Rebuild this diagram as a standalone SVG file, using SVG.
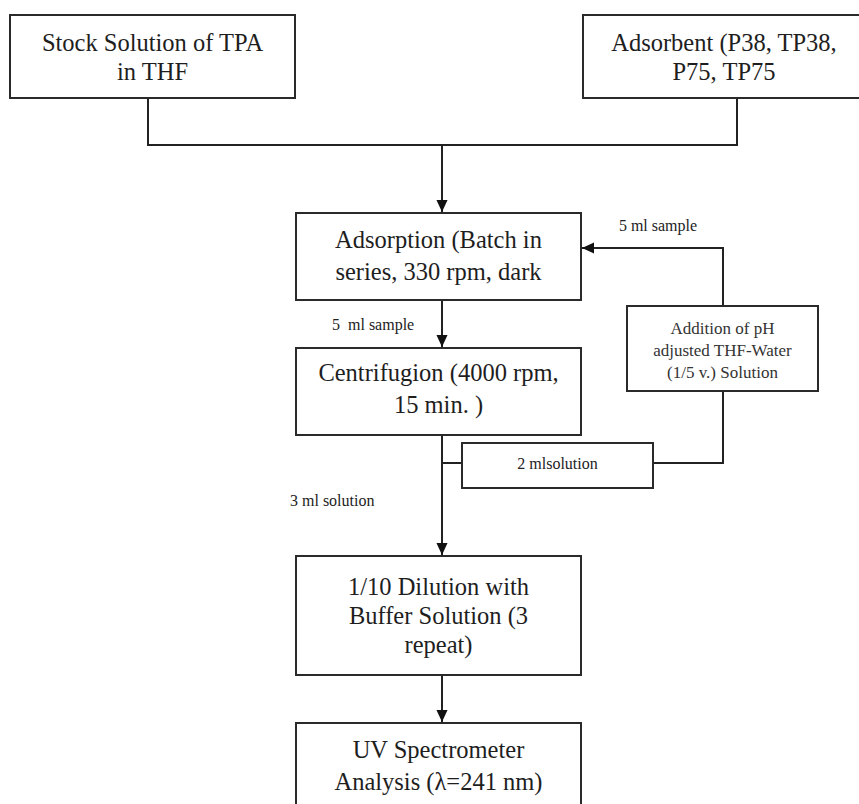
<svg xmlns="http://www.w3.org/2000/svg" width="859" height="804" viewBox="0 0 859 804">
<style>
.box{fill:#fff;stroke:#2a2a2a;stroke-width:2}
.t{font-family:"Liberation Serif","Times New Roman",serif;font-size:24.5px;fill:#1e1e1e;text-anchor:middle}
.s{font-family:"Liberation Serif","Times New Roman",serif;font-size:16px;fill:#222}
.m{font-family:"Liberation Serif","Times New Roman",serif;font-size:17px;fill:#333;text-anchor:middle}
.c{fill:none;stroke:#222;stroke-width:2}
</style>
<defs>
<marker id="ah" markerWidth="12" markerHeight="13" viewBox="0 0 13 12" refX="13" refY="6" orient="auto" markerUnits="userSpaceOnUse">
<path d="M0,0 L13,6 L0,12 Z" fill="#111"/>
</marker>
</defs>
<rect width="859" height="804" fill="#fff"/>
<g id="connectors">
<polyline class="c" points="148,98 148,145 737,145 737,98"/>
<line class="c" x1="442" y1="145" x2="442" y2="212" marker-end="url(#ah)"/>
<line class="c" x1="442" y1="300" x2="442" y2="347" marker-end="url(#ah)"/>
<polyline class="c" points="723,307 723,248 582,248" marker-end="url(#ah)"/>
<line class="c" x1="442" y1="435" x2="442" y2="555" marker-end="url(#ah)"/>
<line class="c" x1="442" y1="463" x2="462" y2="463" stroke="#555"/>
<polyline class="c" points="653,463 723,463 723,391"/>
<line class="c" x1="442" y1="675" x2="442" y2="722" marker-end="url(#ah)"/>
<text class="s" x="658" y="231" text-anchor="middle">5 ml sample</text>
<text class="s" x="332" y="330">5&#160; ml sample</text>
<text class="s" x="290" y="506">3 ml solution</text>
</g>
<g id="stock">
<rect class="box" x="10" y="15" width="285" height="83"/>
<text class="t" x="152.5" y="51">Stock Solution of TPA</text>
<text class="t" x="152.5" y="80">in THF</text>
</g>
<g id="adsorbent">
<rect class="box" x="583" y="15" width="283" height="83"/>
<text class="t" x="724" y="51">Adsorbent (P38, TP38,</text>
<text class="t" x="724" y="80">P75, TP75</text>
</g>
<g id="adsorption">
<rect class="box" x="296" y="213" width="285" height="87"/>
<text class="t" x="438.5" y="248">Adsorption (Batch in</text>
<text class="t" x="438.5" y="280">series, 330 rpm, dark</text>
</g>
<g id="centrifugion">
<rect class="box" x="296" y="348" width="285" height="87"/>
<text class="t" x="438.5" y="381">Centrifugion (4000 rpm,</text>
<text class="t" x="438.5" y="413">15 min. )</text>
</g>
<g id="addition">
<rect class="box" x="627" y="306" width="191" height="85"/>
<text class="m" x="722.5" y="334">Addition of pH</text>
<text class="m" x="722.5" y="356">adjusted THF-Water</text>
<text class="m" x="722.5" y="378">(1/5 v.) Solution</text>
</g>
<g id="two-ml">
<rect class="box" x="462" y="443" width="191" height="45"/>
<text class="s" x="557.5" y="469" text-anchor="middle">2 mlsolution</text>
</g>
<g id="dilution">
<rect class="box" x="296" y="556" width="285" height="119"/>
<text class="t" x="438.5" y="595">1/10 Dilution with</text>
<text class="t" x="438.5" y="624">Buffer Solution (3</text>
<text class="t" x="438.5" y="653">repeat)</text>
</g>
<g id="uv">
<rect class="box" x="296" y="723" width="285" height="100"/>
<text class="t" x="438.5" y="758">UV Spectrometer</text>
<text class="t" x="438.5" y="790">Analysis (λ=241 nm)</text>
</g>
</svg>
